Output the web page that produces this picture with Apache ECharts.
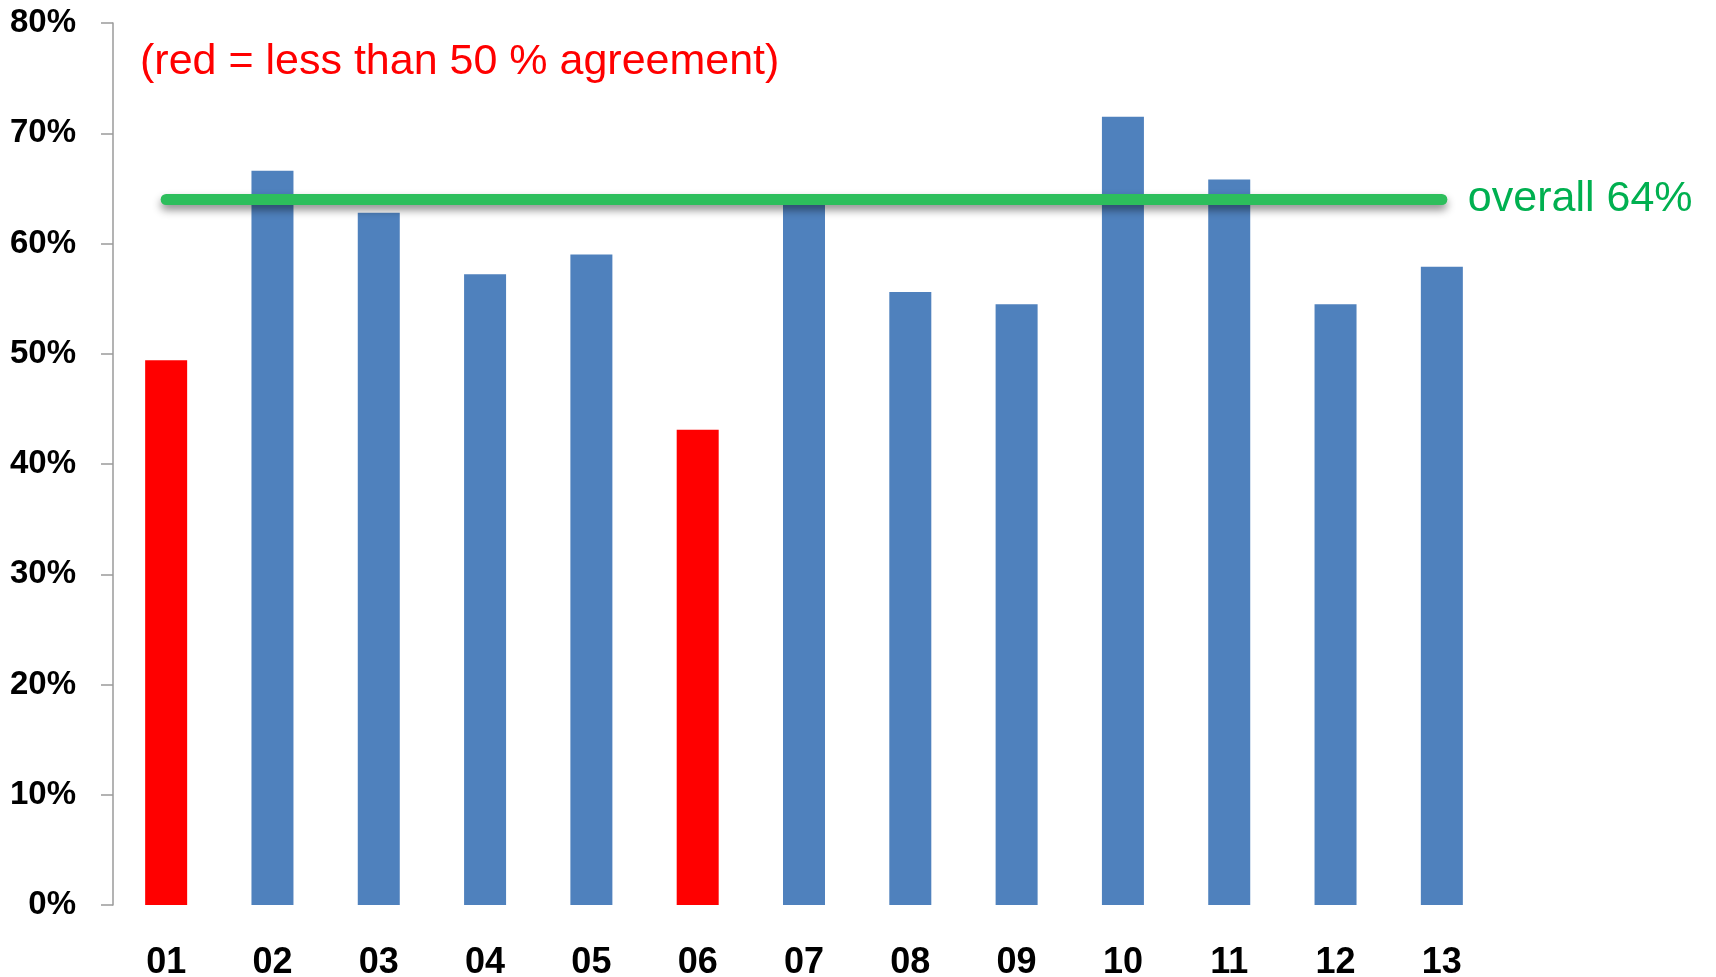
<!DOCTYPE html>
<html>
<head>
<meta charset="utf-8">
<title>agreement</title>
<script src="https://cdn.jsdelivr.net/npm/echarts@6/dist/echarts.min.js"></script>
<style>
  html, body { margin: 0; padding: 0; background: #fff; }
  #chart { width: 1716px; height: 977px; }
</style>
</head>
<body>
<div id="chart"></div>
<script>
// data
const categories = ["01", "02", "03", "04", "05", "06", "07", "08", "09", "10", "11", "12", "13"];
const agreement = [49.4, 66.6, 62.8, 57.2, 59.0, 43.1, 64.0, 55.6, 54.5, 71.5, 65.8, 54.5, 57.9];
const overall = 64;
const threshold = 50;
const yTicks = [0, 10, 20, 30, 40, 50, 60, 70, 80];

const font = "Liberation Sans";

const chart = echarts.init(document.getElementById("chart"));

const option = {
  animation: false,
  backgroundColor: "#fff",
  // keep the grid where it is, labels may sit near the edge
  grid: { left: 113, right: 221, top: 23, bottom: 72, outerBoundsMode: "none" },
  graphic: [
    {
      type: "text",
      left: 140,
      top: 41,
      style: {
        text: "(red = less than 50 % agreement)",
        fill: "#ff0000",
        font: "43px " + font,
      },
    },
  ],
  xAxis: {
    type: "category",
    data: categories,
    axisLine: { show: false },
    axisTick: { show: false },
    axisLabel: {
      margin: 40,
      color: "#000",
      fontFamily: font,
      fontWeight: "bold",
      fontSize: 36,
    },
  },
  yAxis: {
    type: "value",
    min: yTicks[0],
    max: yTicks[yTicks.length - 1],
    interval: 10,
    axisLine: { show: true, lineStyle: { color: "#9a9a9a", width: 1.5 } },
    axisTick: { show: true, length: 12, lineStyle: { color: "#9a9a9a", width: 1.5 } },
    splitLine: { show: false },
    axisLabel: {
      margin: 37,
      color: "#000",
      fontFamily: font,
      fontWeight: "bold",
      fontSize: 33,
      formatter: "{value}%",
    },
  },
  series: [
    {
      type: "bar",
      barWidth: 42,
      data: agreement.map((v) => ({
        value: v,
        itemStyle: { color: v < threshold ? "#ff0000" : "#4f81bd" },
      })),
      markLine: {
        silent: true,
        symbol: "none",
        lineStyle: {
          type: "solid",
          color: "#2dbe5c",
          width: 11,
          cap: "round",
          shadowColor: "rgba(0,0,0,0.45)",
          shadowBlur: 8,
          shadowOffsetY: 5,
        },
        label: {
          show: true,
          position: "end",
          distance: 26,
          formatter: "overall " + overall + "%",
          color: "#00b050",
          fontFamily: font,
          fontSize: 43,
        },
        data: [
          [
            { coord: [categories[0], overall] },
            { coord: [categories[categories.length - 1], overall] },
          ],
        ],
      },
    },
  ],
};

chart.setOption(option);
</script>
</body>
</html>
